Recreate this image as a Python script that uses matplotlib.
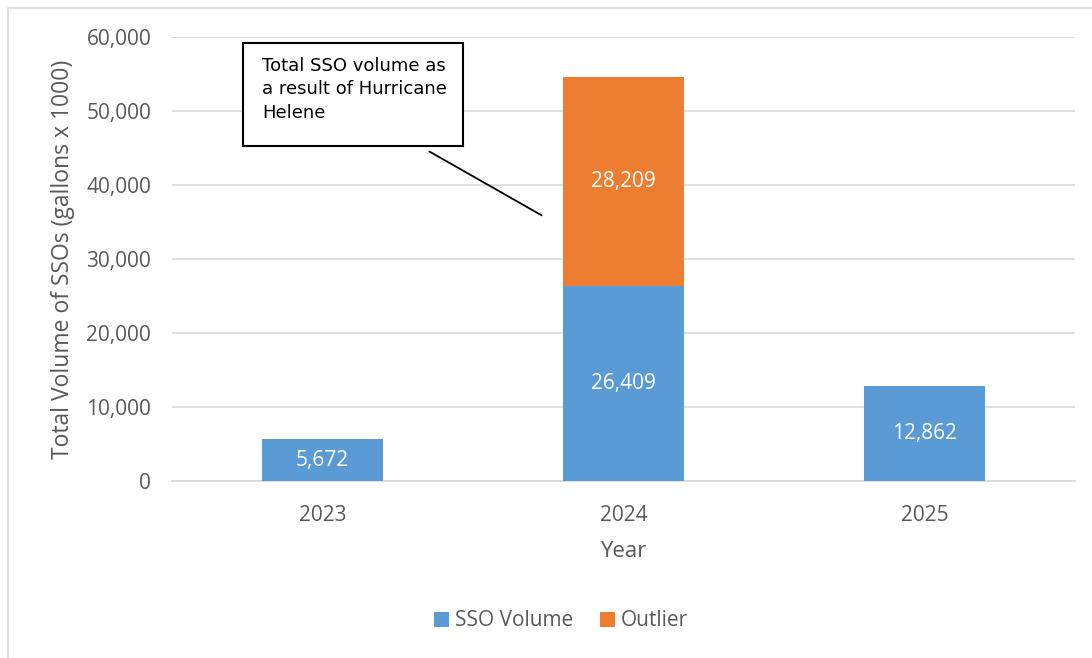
import matplotlib.pyplot as plt
import matplotlib.patches as mpatches
import numpy as np

plt.rcParams['font.family'] = ['Open Sans', 'DejaVu Sans']

# 数据
years = ['2023', '2024', '2025']
sso_volume = [5672, 26409, 12862]
outlier = [0, 28209, 0]

blue = '#5B9BD5'
orange = '#ED7D31'
grey = '#595959'

fig = plt.figure(figsize=(10.92, 6.58), dpi=100)
ax = fig.add_axes([0.1575, 0.269, 0.827, 0.675])

# 外框
fig.patches.append(mpatches.Rectangle((8 / 1092, -0.01), 1.1, 1 - 8 / 658 + 0.01,
                                      transform=fig.transFigure, fill=False,
                                      edgecolor='#D9D9D9', linewidth=1.2))

x = np.arange(len(years))
width = 0.4
b1 = ax.bar(x, sso_volume, width, color=blue, label='SSO Volume', zorder=3)
b2 = ax.bar(x, outlier, width, bottom=sso_volume, color=orange, label='Outlier', zorder=3)

# 数值标签
for i in range(len(years)):
    ax.text(x[i], sso_volume[i] / 2, f'{sso_volume[i]:,}', ha='center', va='center',
            color='white', fontsize=15, zorder=4)
    if outlier[i] > 0:
        ax.text(x[i], sso_volume[i] + outlier[i] / 2, f'{outlier[i]:,}', ha='center',
                va='center', color='white', fontsize=15, zorder=4)

ax.set_xlim(-0.5, 2.5)
ax.set_ylim(0, 60000)
ax.set_yticks(np.arange(0, 60001, 10000))
ax.set_yticklabels([f'{v:,}' for v in range(0, 60001, 10000)])
ax.set_xticks(x)
ax.set_xticklabels(years)
ax.tick_params(axis='both', length=0, labelsize=15, labelcolor=grey)
ax.tick_params(axis='y', pad=15)
ax.tick_params(axis='x', pad=17)
ax.grid(axis='y', color='#D9D9D9', linewidth=1.2, zorder=0)
for s in ['top', 'right', 'left']:
    ax.spines[s].set_visible(False)
ax.spines['bottom'].set_color('#D9D9D9')
ax.spines['bottom'].set_linewidth(1.2)

ax.set_xlabel('Year', fontsize=16, color=grey, labelpad=11)
ax.set_ylabel('Total Volume of SSOs (gallons x 1000)', fontsize=16.5, color=grey,
              labelpad=8)

# 注释框
ax.add_patch(mpatches.Rectangle((0.0786, 0.7545), 0.2435, 0.232, transform=ax.transAxes,
                                facecolor='white', edgecolor='black', linewidth=1.5,
                                zorder=5, clip_on=False))
ax.text(0.1, 0.955, 'Total SSO volume as\na result of Hurricane\nHelene',
        transform=ax.transAxes, ha='left', va='top', fontsize=13, color='black',
        linespacing=1.4, zorder=6, family=['DejaVu Sans'])
ax.annotate('', xy=(0.736, 35700), xytext=(0.347, 44700),
            arrowprops=dict(arrowstyle='-', color='black', linewidth=1.3), zorder=6)

fig.legend(handles=[b1, b2], loc='center', bbox_to_anchor=(561 / 1092, 1 - 621 / 658),
           ncol=2, frameon=False, fontsize=15, labelcolor=grey, handlelength=0.7,
           handleheight=0.7, handletextpad=0.3, columnspacing=1.3)

plt.savefig('out.png', dpi=100)
